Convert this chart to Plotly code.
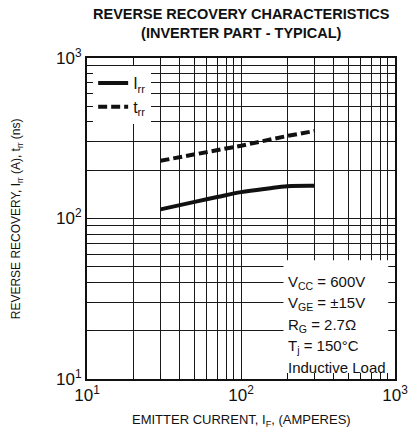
import plotly.graph_objects as go

# Reverse recovery characteristics, inverter part (typical)
emitter_current_irr = [30, 50, 70, 100, 150, 200, 300]
irr_values = [114, 127, 136, 146, 154, 159, 160]

emitter_current_trr = [30, 50, 100, 200, 300]
trr_values = [229, 251, 284, 327, 351]

decade_ticks = [10, 100, 1000]
decade_labels = ["10<sup>1</sup>", "10<sup>2</sup>", "10<sup>3</sup>"]

conditions = [
    "V<sub>CC</sub> = 600V",
    "V<sub>GE</sub> = ±15V",
    "R<sub>G</sub> = 2.7Ω",
    "T<sub>j</sub> = 150°C",
    "Inductive Load",
]

FONT = "Liberation Sans, Arial, sans-serif"

# every 1..9 multiple inside each decade gets a grid line; only decades are labelled
grid_vals = []
grid_text = []
for dec in (10, 100):
    for m in range(1, 10):
        v = dec * m
        grid_vals.append(v)
        grid_text.append(decade_labels[decade_ticks.index(v)] if v in decade_ticks else "")
grid_vals.append(1000)
grid_text.append(decade_labels[2])

fig = go.Figure()
fig.add_trace(go.Scatter(
    x=emitter_current_irr, y=irr_values, mode="lines", name="I<sub>rr</sub>",
    line=dict(color="#111111", width=4, shape="spline"),
))
fig.add_trace(go.Scatter(
    x=emitter_current_trr, y=trr_values, mode="lines", name="t<sub>rr</sub>",
    line=dict(color="#111111", width=4, dash="9px,4px"),
))

axis_common = dict(
    type="log",
    tickmode="array",
    tickvals=grid_vals,
    ticktext=grid_text,
    showgrid=True,
    gridcolor="#1a1a1a",
    gridwidth=1,
    ticks="inside",
    ticklen=6,
    tickwidth=1,
    tickcolor="#111111",
    showline=True,
    linecolor="#111111",
    linewidth=2,
    mirror="ticks",
    tickfont=dict(family=FONT, size=17, color="#111111"),
    zeroline=False,
)

fig.update_xaxes(range=[1, 3], **axis_common)
fig.update_yaxes(range=[1, 3], **axis_common)

# white panel behind the test conditions
fig.add_shape(type="rect", xref="x domain", yref="y domain",
              x0=0.638, x1=0.978, y0=0.019, y1=0.37,
              fillcolor="white", line=dict(width=0), layer="above")

cond_y = [0.302, 0.236, 0.167, 0.100, 0.037]
for txt, yy in zip(conditions, cond_y):
    fig.add_annotation(text=txt, xref="x domain", yref="y domain",
                       x=0.645, y=yy, xanchor="left", yanchor="middle",
                       showarrow=False,
                       font=dict(family=FONT, size=15, color="#111111"))

fig.add_annotation(
    text="<b>REVERSE RECOVERY CHARACTERISTICS<br>(INVERTER PART - TYPICAL)</b>",
    xref="x domain", yref="paper", x=0.5, y=1.168, xanchor="center", yanchor="top",
    showarrow=False, font=dict(family=FONT, size=14.5, color="#111111"))

fig.add_annotation(
    text="EMITTER CURRENT, I<sub>F</sub>, (AMPERES)",
    xref="x domain", yref="paper", x=0.5, y=-0.13, xanchor="center", yanchor="middle",
    showarrow=False, font=dict(family=FONT, size=13, color="#111111"))

fig.add_annotation(
    text="REVERSE RECOVERY, I<sub>rr</sub> (A), t<sub>rr</sub> (ns)",
    xref="paper", yref="y domain", x=-0.228, y=0.5, xanchor="center", yanchor="middle",
    textangle=-90, showarrow=False,
    font=dict(family=FONT, size=12, color="#111111"))

fig.update_layout(
    width=420, height=429,
    margin=dict(l=87, r=12, t=58, b=50),
    paper_bgcolor="white", plot_bgcolor="white",
    showlegend=True,
    legend=dict(x=0.02, y=0.975, xanchor="left", yanchor="top",
                bgcolor="white", borderwidth=0,
                font=dict(family=FONT, size=16, color="#111111"),
                tracegroupgap=0),
)

fig.write_html("out.html")
